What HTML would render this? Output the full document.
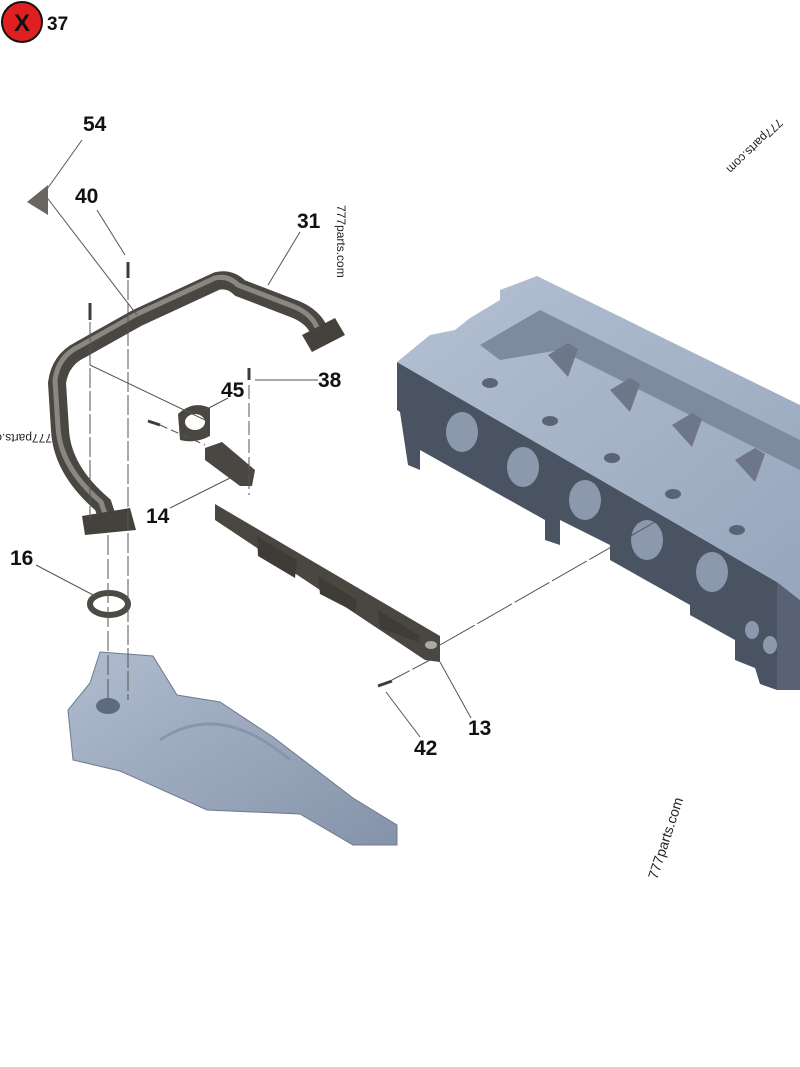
<!DOCTYPE html>
<html><head><meta charset="utf-8"><style>
html,body{margin:0;padding:0;background:#fff;}
svg{display:block;}
text{font-family:"Liberation Sans",sans-serif;}
.lbl{font-size:21px;font-weight:bold;fill:#111;}
.wm{font-size:12px;fill:#222;}
</style></head><body>
<svg width="800" height="1067" viewBox="0 0 800 1067">
<defs>
<linearGradient id="top" x1="0" y1="0" x2="1" y2="1"><stop offset="0" stop-color="#b4c0d2"/><stop offset="1" stop-color="#97a6bd"/></linearGradient>
<linearGradient id="man" x1="0" y1="0" x2="1" y2="1"><stop offset="0" stop-color="#b0bcce"/><stop offset="1" stop-color="#8593aa"/></linearGradient>
</defs>
<circle cx="22" cy="22" r="20" fill="#e02020" stroke="#111" stroke-width="2"/>
<text x="22" y="31" text-anchor="middle" style="font-size:24px;font-weight:bold;fill:#111">X</text>
<text x="47" y="30" class="lbl" style="font-size:19px">37</text>

<!-- engine block -->
<polygon points="397,362 777,582 777,690 760,684 755,668 735,660 735,640 690,615 690,605 610,560 610,545 560,520 560,545 545,540 545,520 420,450 420,470 408,465 400,412 397,410" fill="#4a5361"/>
<polygon points="397,362 430,335 455,330 470,318 500,300 500,290 537,276 800,405 800,600 777,582" fill="url(#top)"/>
<polygon points="777,582 800,600 800,690 777,690" fill="#596274"/>
<polygon points="480,345 540,310 800,440 800,470 560,350 500,360" fill="#7d8aa0"/>
<g fill="#5a6475">
<ellipse cx="490" cy="383" rx="8" ry="5"/><ellipse cx="550" cy="421" rx="8" ry="5"/><ellipse cx="612" cy="458" rx="8" ry="5"/><ellipse cx="673" cy="494" rx="8" ry="5"/><ellipse cx="737" cy="530" rx="8" ry="5"/>
</g>
<g fill="#8c99ad">
<ellipse cx="462" cy="432" rx="16" ry="20"/><ellipse cx="523" cy="467" rx="16" ry="20"/><ellipse cx="585" cy="500" rx="16" ry="20"/><ellipse cx="647" cy="540" rx="16" ry="20"/><ellipse cx="712" cy="572" rx="16" ry="20"/>
<ellipse cx="752" cy="630" rx="7" ry="9"/><ellipse cx="770" cy="645" rx="7" ry="9"/>
</g>
<g fill="#6d7789">
<path d="M548,355 l20,-12 l10,6 l-10,28 z"/><path d="M610,390 l20,-12 l10,6 l-10,28 z"/><path d="M672,425 l20,-12 l10,6 l-10,28 z"/><path d="M735,460 l20,-12 l10,6 l-10,28 z"/>
</g>

<!-- manifold -->
<polygon points="100,652 153,656 177,695 220,702 273,737 353,798 397,825 397,845 353,845 300,814 207,810 120,771 73,760 68,710 90,683" fill="url(#man)" stroke="#6c7a90" stroke-width="1"/>
<ellipse cx="108" cy="706" rx="12" ry="8" fill="#5d6a80"/>
<path d="M160,740 q60,-40 130,20" fill="none" stroke="#8796ac" stroke-width="3"/>

<!-- gasket 13 -->
<polygon points="215,504 440,636 440,662 425,660 215,520" fill="#4a4640"/>
<polygon points="257,536 297,560 295,578 258,556" fill="#3f3b36"/>
<polygon points="318,576 357,600 355,612 320,594" fill="#3f3b36"/>
<polygon points="378,610 420,636 418,642 380,628" fill="#3f3b36"/>
<ellipse cx="431" cy="645" rx="6" ry="4" fill="#aaa"/>

<!-- pipe 31 -->
<path d="M108,520 L103,505 Q62,470 60,430 L57,383 Q60,360 80,350 L137,318 L217,281 Q230,278 240,288 L297,310 Q315,318 320,333" fill="none" stroke="#4a4742" stroke-width="18" stroke-linecap="round"/>
<path d="M108,520 L103,505 Q62,470 60,430 L57,383 Q60,360 80,350 L137,318 L217,281 Q230,278 240,288 L297,310 Q315,318 320,333" fill="none" stroke="#8a8680" stroke-width="5" stroke-linecap="round" transform="translate(-2,-3)"/>
<polygon points="82,516 130,508 136,530 85,535" fill="#45423d"/>
<polygon points="302,335 335,318 345,335 312,352" fill="#45423d"/>

<!-- ring 16 -->
<ellipse cx="109" cy="604" rx="19" ry="11" fill="none" stroke="#4d4a45" stroke-width="6"/>

<!-- bracket 45, part 14 -->
<path d="M178,414 q15,-14 32,-6 l0,28 q-15,8 -30,4 z" fill="#4a4742"/>
<ellipse cx="195" cy="422" rx="10" ry="8" fill="#fff"/>
<polygon points="205,448 222,442 255,470 252,486 240,486 205,460" fill="#4a4742"/>

<!-- bolts -->
<g stroke="#3e3c38" stroke-width="3">
<line x1="128" y1="262" x2="128" y2="278"/><line x1="90" y1="303" x2="90" y2="320"/><line x1="249" y1="368" x2="249" y2="380"/>
<line x1="148" y1="421" x2="160" y2="425"/><line x1="378" y1="686" x2="392" y2="681"/>
</g>

<g stroke="#555" stroke-width="1" fill="none">
<line x1="128" y1="280" x2="128" y2="700" stroke-dasharray="20,3"/>
<line x1="90" y1="322" x2="90" y2="520" stroke-dasharray="20,3"/>
<line x1="108" y1="535" x2="108" y2="705" stroke-dasharray="20,4"/>
<line x1="249" y1="385" x2="249" y2="495" stroke-dasharray="14,4"/>
<line x1="90" y1="365" x2="205" y2="420"/>
<line x1="160" y1="425" x2="205" y2="445" stroke-dasharray="8,4"/>
<line x1="440" y1="645" x2="662" y2="518" stroke-dasharray="40,3"/>
<line x1="392" y1="680" x2="430" y2="660" stroke-dasharray="20,3"/>
<line x1="45" y1="195" x2="137" y2="315"/>
<line x1="45" y1="192" x2="82" y2="140"/>
<line x1="97" y1="210" x2="125" y2="255"/>
<line x1="300" y1="232" x2="268" y2="285"/>
<line x1="228" y1="398" x2="205" y2="410"/>
<line x1="318" y1="380" x2="255" y2="380"/>
<line x1="170" y1="508" x2="230" y2="478"/>
<line x1="36" y1="565" x2="95" y2="596"/>
<line x1="471" y1="718" x2="440" y2="662"/>
<line x1="420" y1="737" x2="386" y2="692"/>
</g>
<polygon points="27,202 48,185 48,215" fill="#6a6560"/>

<text x="83" y="131" class="lbl">54</text>
<text x="75" y="203" class="lbl">40</text>
<text x="297" y="228" class="lbl">31</text>
<text x="221" y="397" class="lbl">45</text>
<text x="318" y="387" class="lbl">38</text>
<text x="146" y="523" class="lbl">14</text>
<text x="10" y="565" class="lbl">16</text>
<text x="468" y="735" class="lbl">13</text>
<text x="414" y="755" class="lbl">42</text>

<text class="wm" transform="translate(337,205) rotate(90)">777parts.com</text>
<text class="wm" transform="translate(52,434) rotate(180)">777parts.com</text>
<text class="wm" transform="translate(778,118) rotate(136)">777parts.com</text>
<text class="wm" style="font-size:14px" transform="translate(657,880) rotate(-72)">777parts.com</text>
</svg>
</body></html>
